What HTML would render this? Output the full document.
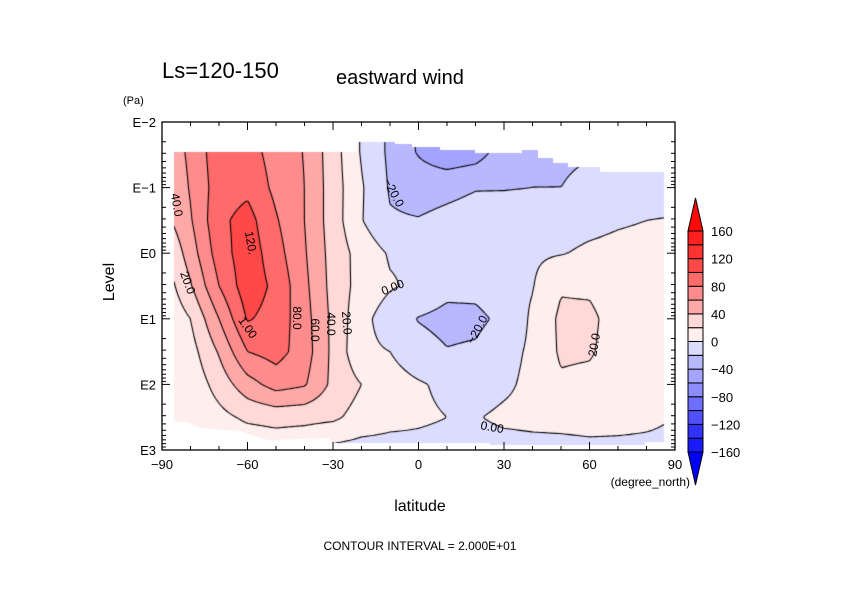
<!DOCTYPE html>
<html><head><meta charset="utf-8">
<style>
html,body{margin:0;padding:0;background:#fff;}
#wrap{position:relative;width:842px;height:595px;overflow:hidden;font-family:"Liberation Sans",sans-serif;}
#field{position:absolute;left:0;top:0;}
#ov{position:absolute;left:0;top:0;}
</style></head>
<body>
<div id="wrap">
<canvas id="field" width="842" height="595"></canvas>
<svg id="ov" width="842" height="595" xmlns="http://www.w3.org/2000/svg">
  <text x="162" y="78" font-size="22">Ls=120-150</text>
  <text x="336" y="84" font-size="20">eastward wind</text>
  <text x="123" y="104" font-size="11">(Pa)</text>
  <text x="0" y="0" font-size="16" text-anchor="middle" transform="translate(114,282) rotate(-90)">Level</text>
  <text x="420" y="511" font-size="16" text-anchor="middle">latitude</text>
  <text x="690" y="486" font-size="12" text-anchor="end">(degree_north)</text>
  <text x="420" y="550" font-size="12" text-anchor="middle">CONTOUR INTERVAL = 2.000E+01</text>
  <g id="axes"></g>
  <g id="clabels" font-size="12"></g>
  <g id="cbar"></g>
</svg>
</div>
<script>
// ---- data ----
const lats = [-86,-80,-70,-60,-50,-40,-30,-20,-10,0,10,20,30,40,50,60,70,80,86];
const levelsLog = [-1.55,-1,-0.5,0,0.5,1,1.5,2,2.5,2.95]; // log10(Pa)
const windLv0 = [50,65,92,88,72,59,29,-2,-24,-42,-55,-50,-30,-24,-22,-21,-20,-19,-19];
const windLv1 = [45,62,90,95,75,60,30,2,-22,-28,-25,-21,-21,-20,-20,-17,-14,-12,-12];
const windLv2 = [42,58,95,108,82,60,30,1,-18,-19,-15,-12,-10,-9,-7,-5,-2,0,1];
const windLv3 = [28,50,90,112,88,62,32,12,-2,-3,-8,-9,-6,-3,-1,3,5,6,7];
const windLv4 = [18,38,80,112,95,65,33,12,2,-4,-14,-14,-7,-1,18,17,10,8,8];
const windLv5 = [8,20,60,102,92,68,35,6,-10,-21,-26,-25,-15,3,24,24,12,9,9];
const windLv6 = [4,12,42,80,88,70,35,4,0,-12,-19,-17,-6,3,23,22,12,9,9];
const windLv7 = [3,6,28,52,68,62,35,20,8,2,-4,-8,-3,4,17,15,10,8,8];
const windLv8 = [2,4,14,24,27,26,24,12,6,3,0,-1,3,4,5,6,5,3,1];
const windLv9 = [-2,-3,2,5,8,5,-3,-6,-6,-5,-6,-6,-5,-4,-4,-3,-3,-3,-3];
const wind = [windLv0,windLv1,windLv2,windLv3,windLv4,windLv5,windLv6,windLv7,windLv8,windLv9];
const contourLevels = [-160,-140,-120,-100,-80,-60,-40,-20,0,20,40,60,80,100,120,140,160];
const fillColors = ["#0000ff","#1a1aff","#3232ff","#5050ff","#6e6eff","#8c8cff","#a4a4ff","#b8b8ff","#dcdcff",
                    "#ffeeee","#ffd8d8","#ffa8a8","#ff8c8c","#ff6a6a","#ff4848","#ff3232","#ff2020","#ff0a0a"];
const xTickVals = [-90,-60,-30,0,30,60,90];
const yTickVals = [-2,-1,0,1,2,3];
const yTickLabels = ["E-2","E-1","E0","E1","E2","E3"];
const cbarLabelVals = [160,120,80,40,0,-40,-80,-120,-160];

// ---- scales ----
const X0=162, X1=675, Y0=122, Y1=450;
function xScale(lat){return X0+(lat+90)/180*(X1-X0);}
function yScale(lg){return Y0+(lg+2)/5*(Y1-Y0);}
function xInv(px){return (px-X0)/(X1-X0)*180-90;}
function yInv(py){return (py-Y0)/(Y1-Y0)*5-2;}
function findIdx(arr,v){
  if(v<=arr[0]) return [0,0];
  if(v>=arr[arr.length-1]) return [arr.length-2,1];
  for(let i=0;i<arr.length-1;i++){ if(v<=arr[i+1]) return [i,(v-arr[i])/(arr[i+1]-arr[i])]; }
  return [arr.length-2,1];
}
function field(lat,lg){
  const [i,tx]=findIdx(lats,lat), [j,ty]=findIdx(levelsLog,lg);
  const a=wind[j][i], b=wind[j][i+1], c=wind[j+1][i], d=wind[j+1][i+1];
  return (a*(1-tx)+b*tx)*(1-ty)+(c*(1-tx)+d*tx)*ty;
}
function colorFor(v){
  let k=Math.floor((v-(-160))/20)+1;
  if(v<-160) k=0;
  k=Math.max(0,Math.min(fillColors.length-1,k));
  return fillColors[k];
}
function hexRGB(h){return [parseInt(h.substr(1,2),16),parseInt(h.substr(3,2),16),parseInt(h.substr(5,2),16)];}

// ---- valid-data mask (topography / top of model) ----
const maskPoly=[[174,152],[357,152],[357,142],[395,142],[395,144],[412,144],[412,147],[440,147],[440,150],[475,150],[475,153],[522,153],[522,150],[538,150],[538,158],[553,158],[553,163],[568,163],[568,167],[600,167],[600,172],[664,172],[664,442],[645,442],[645,445],[490,445],[490,443],[330,443],[330,438],[268,440],[240,431],[200,428],[190,423],[174,421]];

const cv=document.getElementById('field'), ctx=cv.getContext('2d');
ctx.fillStyle="#fff";ctx.fillRect(0,0,842,595);
const W=X1-X0, H=Y1-Y0;
const img=ctx.createImageData(W,H);
for(let py=0;py<H;py++){
  const lg=yInv(Y0+py+0.5);
  for(let px=0;px<W;px++){
    const v=field(xInv(X0+px+0.5),lg);
    const rgb=hexRGB(colorFor(v));
    const o=(py*W+px)*4;
    img.data[o]=rgb[0];img.data[o+1]=rgb[1];img.data[o+2]=rgb[2];img.data[o+3]=255;
  }
}
const tmp=document.createElement('canvas');tmp.width=W;tmp.height=H;
tmp.getContext('2d').putImageData(img,0,0);
ctx.save();
ctx.beginPath();maskPoly.forEach((p,i)=>i?ctx.lineTo(p[0],p[1]):ctx.moveTo(p[0],p[1]));ctx.closePath();
ctx.clip();
ctx.drawImage(tmp,X0,Y0);
// contour lines (marching squares)
const step=2, nx=Math.floor(W/step)+1, ny=Math.floor(H/step)+1;
const G=[];
for(let j=0;j<ny;j++){const row=[];const lg=yInv(Y0+j*step);for(let i=0;i<nx;i++){row.push(field(xInv(X0+i*step),lg));}G.push(row);}
ctx.strokeStyle="#000";ctx.lineWidth=1.1;
ctx.beginPath();
contourLevels.forEach(L=>{
  for(let j=0;j<ny-1;j++)for(let i=0;i<nx-1;i++){
    const v=[G[j][i],G[j][i+1],G[j+1][i+1],G[j+1][i]];
    const p=[[X0+i*step,Y0+j*step],[X0+(i+1)*step,Y0+j*step],[X0+(i+1)*step,Y0+(j+1)*step],[X0+i*step,Y0+(j+1)*step]];
    const pts=[];
    for(let e=0;e<4;e++){
      const a=v[e]-L,b=v[(e+1)%4]-L;
      if((a<0)!==(b<0)){const t=a/(a-b);pts.push([p[e][0]+(p[(e+1)%4][0]-p[e][0])*t,p[e][1]+(p[(e+1)%4][1]-p[e][1])*t]);}
    }
    for(let k=0;k+1<pts.length;k+=2){ctx.moveTo(pts[k][0],pts[k][1]);ctx.lineTo(pts[k+1][0],pts[k+1][1]);}
  }
});
ctx.stroke();
ctx.restore();

// ---- axes ----
const NS="http://www.w3.org/2000/svg";
const axes=document.getElementById('axes');
function mk(tag,attrs,parent){const e=document.createElementNS(NS,tag);for(const k in attrs)e.setAttribute(k,attrs[k]);parent.appendChild(e);return e;}
const frame=mk('rect',{x:X0,y:Y0,width:X1-X0,height:Y1-Y0,fill:"none",stroke:"#000","stroke-width":1.3},axes);


for(let lat=-90;lat<=90;lat+=10){
  const x=xScale(lat), major=(lat%30===0), len=major?8:4;
  const t1=mk('line',{x1:x,y1:Y1,x2:x,y2:Y1-len,stroke:"#000"},axes);
  
  
  const t2=mk('line',{x1:x,y1:Y0,x2:x,y2:Y0+len,stroke:"#000"},axes);
  
  
}
xTickVals.forEach(v=>{
  const t=mk('text',{x:xScale(v),y:Y1+19,"font-size":13,"text-anchor":"middle"},axes);
  t.textContent=(v<0?"\u2212":"")+Math.abs(v);
  
  
});
for(let d=-2;d<3;d++){
  for(let m=1;m<10;m++){
    const y=yScale(d+Math.log10(m)), len=(m===1)?8:4;
    const a=mk('line',{x1:X0,y1:y,x2:X0+len,y2:y,stroke:"#000"},axes);
    
    
    const b=mk('line',{x1:X1,y1:y,x2:X1-len,y2:y,stroke:"#000"},axes);
    
    
  }
}
yTickVals.forEach((v,i)=>{
  const t=mk('text',{x:X0-6,y:yScale(v)+5,"font-size":13,"text-anchor":"end"},axes);
  t.textContent=yTickLabels[i].replace("-","\u2212");
  
  
});

// ---- contour labels ----
const cl=document.getElementById('clabels');
[["40.0",176,205,80],["20.0",187,283,70],["120.",250,243,80],["1.00",247,328,55],["80.0",296,318,90],["60.0",314,330,90],["40.0",330,324,90],["20.0",346,323,85],["0.00",393,288,-22],["\u221220.0",393,193,62],["\u221220.0",478,330,-62],["20.0",595,345,-80],["0.00",492,428,10]].forEach(l=>{
  const t=mk('text',{x:0,y:0,"text-anchor":"middle","dominant-baseline":"middle",transform:`translate(${l[1]},${l[2]}) rotate(${l[3]})`},cl);
  t.textContent=l[0];
  
  
});

// ---- colorbar ----
const cb=document.getElementById('cbar');
const CBX=688, CBW=15, CBT=231, CBB=452;
const bandH=(CBB-CBT)/(contourLevels.length-1);
function cbY(v){return CBT+(160-v)/20*bandH;}
for(let k=1;k<fillColors.length-1;k++){
  const hi=contourLevels[k];
  const r=mk('rect',{x:CBX,y:cbY(hi),width:CBW,height:bandH,fill:fillColors[k],stroke:"#000","stroke-width":1},cb);
  
  
}
const tt=mk('polygon',{points:`${CBX},${CBT} ${CBX+CBW},${CBT} ${CBX+CBW/2},198`,fill:fillColors[fillColors.length-1],stroke:"#000"},cb);


const tb=mk('polygon',{points:`${CBX},${CBB} ${CBX+CBW},${CBB} ${CBX+CBW/2},485`,fill:fillColors[0],stroke:"#000"},cb);


cbarLabelVals.forEach(v=>{
  const t=mk('text',{x:711,y:cbY(v)+5,"font-size":13},cb);
  t.textContent=(v<0?"\u2212":"")+Math.abs(v);
  
  
});
</script>
</body></html>
